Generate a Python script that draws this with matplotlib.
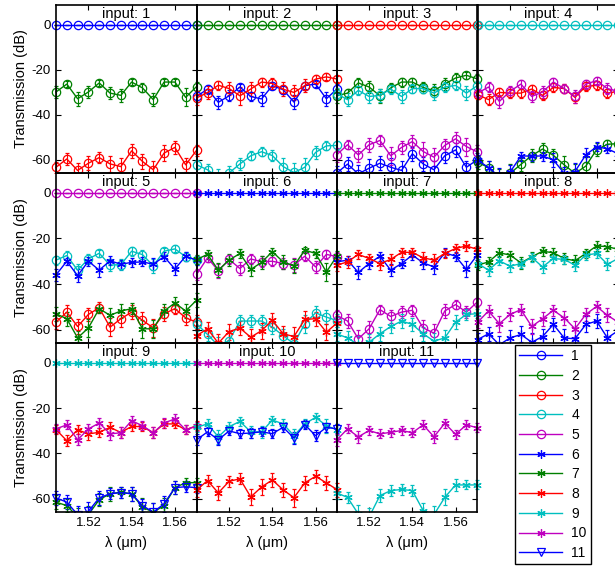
import matplotlib
matplotlib.use("Agg")
import matplotlib.pyplot as plt
from matplotlib.lines import Line2D
from matplotlib.transforms import Bbox, TransformedBbox

plt.rcParams["font.family"] = ["Liberation Sans", "DejaVu Sans"]
plt.rcParams["axes.unicode_minus"] = False

# wavelength grid (um)
LAMBDA_UM = [1.505, 1.510, 1.515, 1.520, 1.525, 1.530, 1.535,
             1.540, 1.545, 1.550, 1.555, 1.560, 1.565, 1.570]

ZERO = [0, 0, 0, 0, 0, 0, 0, 0, 0, 0, 0, 0, 0, 0]

# legend labels and styles per output channel
CHANNEL_LABELS = ["1", "2", "3", "4", "5", "6", "7", "8", "9", "10", "11"]
CHANNEL_COLORS = ["#0000ff", "#008000", "#ff0000", "#00bfbf", "#bf00bf",
                  "#0000ff", "#008000", "#ff0000", "#00bfbf", "#bf00bf",
                  "#0000ff"]
ASTERISK = (6, 2, 0)
CHANNEL_MARKERS = ["o", "o", "o", "o", "o",
                   ASTERISK, ASTERISK, ASTERISK, ASTERISK, ASTERISK, "v"]

# transmission (dB) and error half-widths for each input
IN1_CH = [1, 2, 3]
IN1_DB = [ZERO,
          [-29.9, -26.4, -32.9, -29.9, -25.9, -30.4, -31.4, -25.5, -28.1, -33.3, -25.5, -25.5, -32.3, -27.5],
          [-63.3, -59.6, -64.7, -61.5, -59.0, -61.8, -63.0, -56.0, -60.7, -64.4, -57.0, -54.5, -62.2, -55.8]]
IN1_ERR = [ZERO,
           [2.5, 1.5, 3, 2.5, 1.5, 2.5, 3, 1.5, 2, 3, 1.5, 1.5, 4, 2],
           [2.5, 2.5, 3.5, 3, 2.5, 3.5, 4, 3, 3.5, 4, 3.5, 3, 3, 2.5]]

IN2_CH = [1, 2, 3, 4]
IN2_DB = [[-31.9, -28.6, -34.5, -31.6, -27.7, -31.9, -33.0, -27.1, -28.9, -34.4, -27.1, -26.4, -32.9, -28.5],
          ZERO,
          [-32.5, -30.2, -26.9, -28.4, -31.6, -28.6, -25.5, -26.1, -28.7, -30.1, -27.1, -24.2, -23.2, -24.2],
          [-62.2, -64.4, -68.0, -65.8, -61.8, -58.2, -56.4, -58.1, -63.0, -65.6, -63.3, -56.7, -53.8, -53.6]]
IN2_ERR = [[2.5, 2, 3, 2.5, 1.5, 2, 3, 1.5, 2, 3, 1.5, 1.5, 3, 2],
           ZERO,
           [3, 3, 2, 3, 4, 3, 2, 2.5, 3, 3.5, 3, 2, 1.5, 1.5],
           [2, 2.5, 4, 3, 2.5, 2, 2, 2.5, 4, 4, 4, 3, 2, 2]]

IN3_CH = [1, 2, 3, 4, 5]
IN3_DB = [[-65.9, -61.9, -66.2, -63.7, -61.5, -63.3, -64.7, -57.3, -61.8, -64.4, -58.2, -55.6, -63.3, -60.0],
          [-31.6, -30.4, -25.9, -27.7, -31.6, -28.1, -25.5, -25.5, -27.9, -29.3, -26.4, -23.7, -22.5, -24.1],
          ZERO,
          [-30.7, -33.3, -29.2, -31.9, -31.4, -28.6, -31.9, -28.4, -28.4, -30.4, -27.7, -27.0, -30.4, -27.1],
          [-57.8, -53.3, -57.8, -53.3, -51.4, -58.2, -54.5, -51.9, -56.3, -58.8, -53.6, -50.7, -54.1, -56.5]]
IN3_ERR = [[3, 3, 4, 4, 3, 4, 4, 3, 3, 4, 3, 3, 3, 3],
           [3, 2, 2, 2.5, 3, 2, 2, 2, 2.5, 3, 2.5, 2, 1.5, 2],
           ZERO,
           [2.5, 3, 2, 3, 3, 2, 3, 2, 2, 3, 2, 2, 3, 2],
           [3, 2, 3, 3, 2.5, 4, 3, 3, 4, 4, 3, 3, 4, 3]]

IN4_CH = [2, 3, 4, 5, 6]
IN4_DB = [[-61.1, -63.4, -68.0, -66.0, -62.0, -58.1, -55.2, -58.0, -62.2, -66.0, -62.8, -55.5, -53.1, -52.8],
          [-31.1, -33.3, -30.1, -30.4, -30.4, -28.6, -31.4, -27.9, -28.4, -32.3, -27.4, -27.0, -30.4, -29.6],
          ZERO,
          [-30.4, -27.7, -34.1, -29.6, -26.4, -31.9, -29.9, -25.5, -28.4, -31.9, -26.4, -24.9, -28.4, -29.6],
          [-60.2, -63.4, -67.5, -65.4, -58.3, -58.3, -58.3, -60.0, -66.0, -65.2, -57.8, -54.2, -55.1, -57.3]]
IN4_ERR = [[3, 3, 4, 4, 3, 3, 2.5, 3, 4, 4, 4, 3, 2, 2],
           [2, 2.5, 2, 2, 2, 2, 2, 2, 2, 2.5, 2, 2, 2, 2],
           ZERO,
           [2, 2, 3, 2.5, 2, 2.5, 2.5, 2, 2, 3, 2, 1.5, 2.5, 2],
           [2.5, 3, 4, 3, 2, 2, 2, 3, 3, 4, 3, 2, 2, 2]]

IN5_CH = [3, 4, 5, 6, 7]
IN5_DB = [[-56.7, -52.3, -58.6, -53.3, -50.4, -58.9, -55.2, -52.3, -55.9, -59.2, -53.0, -50.8, -54.8, -56.7],
          [-29.5, -27.5, -33.9, -29.0, -26.5, -31.7, -31.5, -25.6, -27.1, -32.0, -25.6, -24.6, -28.0, -29.5],
          ZERO,
          [-36.0, -30.0, -36.3, -30.0, -33.9, -29.8, -31.3, -30.5, -30.3, -31.3, -28.0, -33.4, -27.8, -29.5],
          [-53.0, -55.2, -63.6, -59.2, -50.8, -53.7, -51.8, -50.8, -59.6, -59.6, -51.8, -48.3, -51.8, -47.1]]
IN5_ERR = [[3, 3, 3.5, 3, 2.5, 4, 3.5, 3, 3.5, 4, 3, 2.5, 3, 3],
           [2, 2, 2.5, 2, 1.5, 2.5, 2.5, 2, 2, 3, 1.5, 1.5, 2, 2],
           ZERO,
           [2.5, 1.5, 3, 2, 3, 2, 2, 2, 2, 2.5, 2, 2.5, 2, 2],
           [3, 3, 3, 4, 2, 3, 3, 2.5, 4, 4, 3, 2.5, 3, 3]]

IN6_CH = [4, 5, 6, 7, 8]
IN6_DB = [[-57.4, -62.1, -67.0, -64.8, -56.2, -56.2, -56.2, -58.9, -62.6, -66.2, -57.4, -52.6, -54.5, -56.0],
          [-35.7, -28.5, -34.2, -29.2, -33.2, -29.0, -30.2, -30.0, -31.0, -31.7, -27.8, -32.5, -27.0, -28.0],
          ZERO,
          [-29.2, -27.0, -33.9, -29.5, -26.6, -33.6, -30.5, -25.8, -30.3, -32.0, -25.1, -26.6, -34.7, -27.5],
          [-62.6, -59.6, -65.9, -60.8, -59.3, -63.3, -60.4, -55.9, -61.8, -63.0, -55.5, -55.2, -61.1, -57.0]]
IN6_ERR = [[3, 3, 4, 4, 2.5, 2.5, 2.5, 3, 3, 4, 4, 3, 3, 3],
           [2.5, 2, 3, 2, 3, 2, 2.5, 2, 2.5, 3, 2, 2.5, 2, 2],
           ZERO,
           [2, 2, 3, 2.5, 2, 3, 3, 1.5, 3, 3, 1.5, 2, 4, 2],
           [3, 3, 4, 3.5, 3, 3.5, 3.5, 3, 3.5, 4, 3.5, 3, 3.5, 3]]

IN7_CH = [5, 6, 7, 8, 9]
IN7_DB = [[-53.7, -56.2, -64.0, -59.6, -51.2, -54.2, -52.3, -51.5, -59.2, -61.5, -51.8, -49.0, -52.3, -47.9],
          [-30.3, -29.5, -34.9, -31.0, -27.8, -33.9, -31.0, -27.3, -30.7, -32.5, -26.3, -27.8, -33.6, -27.3],
          ZERO,
          [-31.7, -30.3, -27.0, -28.8, -31.0, -29.2, -26.1, -26.1, -28.5, -29.5, -26.6, -24.4, -23.3, -24.8],
          [-61.8, -63.6, -66.6, -65.5, -61.8, -58.6, -56.2, -57.7, -61.8, -65.0, -63.6, -56.7, -53.3, -53.0]]
IN7_ERR = [[2.5, 3, 4, 3.5, 2, 3, 2.5, 2.5, 3.5, 4, 3, 2, 2.5, 2],
           [2, 2, 3, 2.5, 2, 2.5, 2, 2, 2.5, 3, 2, 2, 3.5, 2],
           ZERO,
           [2.5, 2.5, 2, 2, 3, 2.5, 2, 2, 2.5, 2.5, 2, 2, 2, 1.5],
           [3, 3, 4, 3.5, 3, 3, 3, 3, 3, 3.5, 3.5, 3, 2.5, 2]]

IN8_CH = [6, 7, 8, 9, 10]
IN8_DB = [[-64.3, -61.8, -66.6, -63.6, -62.1, -65.5, -63.0, -57.7, -63.6, -64.0, -57.7, -56.2, -63.6, -60.4],
          [-31.7, -30.3, -26.3, -27.3, -30.7, -28.1, -25.6, -26.3, -28.8, -29.8, -26.6, -23.3, -23.6, -24.8],
          ZERO,
          [-31.0, -33.9, -29.8, -32.2, -31.0, -28.3, -32.5, -28.8, -29.2, -31.7, -27.3, -26.6, -31.3, -28.8],
          [-56.7, -51.8, -57.4, -53.3, -51.2, -58.6, -55.2, -51.5, -54.8, -59.6, -53.3, -49.8, -53.7, -56.7]]
IN8_ERR = [[3, 3, 4, 3.5, 3.5, 4, 3.5, 3, 4, 4, 3.5, 3, 3.5, 3],
           [2, 2, 2, 2, 2.5, 2, 2, 2, 2.5, 2.5, 2, 2, 2, 2],
           ZERO,
           [2, 2.5, 2, 2.5, 2, 2, 2.5, 2, 2, 2.5, 2, 2, 2.5, 2],
           [2.5, 2.5, 3.5, 3, 2.5, 3.5, 3, 2.5, 3, 3.5, 3, 2.5, 3, 3]]

IN9_CH = [7, 8, 9, 10, 11]
IN9_DB = [[-61.5, -63.0, -68.0, -67.0, -60.4, -57.8, -57.1, -57.8, -63.7, -65.9, -63.0, -55.1, -52.9, -52.9],
          [-29.5, -34.4, -29.6, -31.4, -30.7, -28.5, -30.8, -28.1, -28.2, -30.9, -27.0, -27.0, -29.6, -27.8],
          ZERO,
          [-29.2, -27.4, -34.0, -29.2, -26.6, -31.4, -30.9, -25.6, -27.8, -30.9, -26.6, -24.8, -29.6, -28.0],
          [-59.6, -61.5, -67.0, -65.5, -59.6, -57.8, -57.3, -57.8, -63.0, -65.9, -62.2, -55.1, -54.7, -55.1]]
IN9_ERR = [[3, 3, 4, 4, 3, 3, 2.5, 3, 4, 4, 3.5, 3, 2, 2],
           [2, 2.5, 2, 2.5, 2, 2.5, 2.5, 2, 2, 2.5, 2, 2, 2, 2],
           ZERO,
           [2, 2, 2.5, 2, 2, 2.5, 2.5, 2, 2, 2.5, 2, 2, 2, 2],
           [3, 3, 4, 4, 3, 2.5, 2.5, 3, 3, 4, 3.5, 3, 2.5, 2.5]]

IN10_CH = [8, 9, 10, 11]
IN10_DB = [[-56.1, -52.0, -57.4, -52.3, -51.2, -59.2, -54.8, -51.7, -56.1, -59.5, -53.0, -50.1, -53.0, -56.0],
           [-28.5, -27.0, -32.7, -28.2, -25.9, -30.5, -30.5, -25.3, -27.0, -32.2, -27.0, -24.1, -27.8, -29.6],
           ZERO,
           [-34.0, -30.5, -34.0, -30.1, -31.3, -31.0, -30.5, -31.3, -28.5, -33.2, -27.3, -32.2, -28.5, -29.2]]
IN10_ERR = [[3, 2.5, 3, 2.5, 2.5, 3.5, 3.5, 3, 3, 4, 3, 3, 3, 3],
            [2, 2, 3, 2, 2, 2.5, 2.5, 2, 2, 3, 2, 2, 3, 2.5],
            ZERO,
            [2.5, 2, 2.5, 2, 2, 2, 2, 2, 2, 2.5, 2, 2.5, 2, 2]]

IN11_CH = [9, 10, 11]
IN11_DB = [[-57.4, -59.4, -66.7, -68.0, -58.6, -56.4, -55.9, -56.4, -65.2, -67.0, -59.4, -53.9, -53.9, -53.9],
           [-34.1, -29.2, -32.7, -29.9, -31.4, -30.7, -29.9, -30.9, -27.4, -32.7, -26.7, -31.6, -27.4, -28.7],
           ZERO]
IN11_ERR = [[2.5, 2.5, 4, 4, 3, 2.5, 2.5, 2.5, 3.5, 4, 3.5, 2.5, 2, 2],
            [2.5, 2, 2.5, 2, 2, 2, 2, 2, 2, 2.5, 2, 2, 2, 2],
            ZERO]

PANELS = [
    (IN1_CH, IN1_DB, IN1_ERR), (IN2_CH, IN2_DB, IN2_ERR),
    (IN3_CH, IN3_DB, IN3_ERR), (IN4_CH, IN4_DB, IN4_ERR),
    (IN5_CH, IN5_DB, IN5_ERR), (IN6_CH, IN6_DB, IN6_ERR),
    (IN7_CH, IN7_DB, IN7_ERR), (IN8_CH, IN8_DB, IN8_ERR),
    (IN9_CH, IN9_DB, IN9_ERR), (IN10_CH, IN10_DB, IN10_ERR),
    (IN11_CH, IN11_DB, IN11_ERR),
]

X_TICKS = [1.52, 1.54, 1.56]
Y_TICKS = [-60, -40, -20, 0]

# layout in pixels of the 615x570 figure
FIG_W, FIG_H = 615, 570
COL_LEFT = [56, 196.7, 336.7, 477.7]
COL_WIDTH = 140.5
ROW_TOP = [4.7, 172.7, 342.7]
ROW_BOTTOM = [172.7, 342.7, 511.7]


def draw_panel(ax, channels, values, errors):
    """plot one input panel with error bars"""
    # let edge markers spill sideways, but clip at top/bottom
    clip = TransformedBbox(Bbox([[-0.04, 0.0], [1.04, 1.0]]), ax.transAxes)
    for ch, y, e in zip(channels, values, errors):
        color = CHANNEL_COLORS[ch - 1]
        cont = ax.errorbar(
            LAMBDA_UM, y, yerr=e, color=color, ecolor=color,
            marker=CHANNEL_MARKERS[ch - 1], markersize=6,
            markerfacecolor="none", markeredgecolor=color,
            markeredgewidth=0.9, linewidth=1.0, elinewidth=0.8,
            capsize=1.6, capthick=0.8,
        )
        for artist in cont.get_children():
            artist.set_clip_box(clip)


def format_panel(ax, idx, row, col):
    """limits, ticks, labels and the input title"""
    ax.set_xlim(1.505, 1.570)
    ax.set_ylim(-65.7, 8.8)
    ax.set_xticks(X_TICKS)
    ax.set_yticks(Y_TICKS)
    ax.tick_params(direction="in", length=3.5, width=0.8, top=True,
                   right=True, labelsize=9.5, pad=4)
    ax.patch.set_visible(False)
    for sp in ax.spines.values():
        sp.set_linewidth(1.2)
    if col == 0:
        ax.set_ylabel("Transmission (dB)", fontsize=10.5, labelpad=2)
    else:
        ax.set_yticklabels([])
    if row == 2:
        ax.set_xlabel("\u03bb (\u03bcm)", fontsize=10.5, labelpad=5)
    else:
        ax.set_xticklabels([])
    ax.text(0.5, 0.945, f"input: {idx + 1}", transform=ax.transAxes,
            ha="center", va="center", fontsize=10.5)


def add_legend(fig):
    handles = [
        Line2D([], [], color=c, marker=m, markersize=6, markerfacecolor="none",
               markeredgewidth=0.9, linewidth=1.0)
        for c, m in zip(CHANNEL_COLORS, CHANNEL_MARKERS)
    ]
    leg = fig.legend(
        handles, CHANNEL_LABELS, loc="upper left",
        bbox_to_anchor=(515 / FIG_W, 1 - 345 / FIG_H), borderaxespad=0,
        fontsize=10, handlelength=3.1, handletextpad=0.65, labelspacing=0.41,
        borderpad=0.3, fancybox=False, framealpha=1, edgecolor="black",
    )
    leg.get_frame().set_linewidth(1.0)


def main():
    fig = plt.figure(figsize=(FIG_W / 100, FIG_H / 100), dpi=100)
    for idx, (channels, values, errors) in enumerate(PANELS):
        row, col = divmod(idx, 4)
        rect = [COL_LEFT[col] / FIG_W, 1 - ROW_BOTTOM[row] / FIG_H,
                COL_WIDTH / FIG_W, (ROW_BOTTOM[row] - ROW_TOP[row]) / FIG_H]
        ax = fig.add_axes(rect)
        draw_panel(ax, channels, values, errors)
        format_panel(ax, idx, row, col)
    add_legend(fig)
    fig.savefig("out.png", dpi=100)


if __name__ == "__main__":
    main()
